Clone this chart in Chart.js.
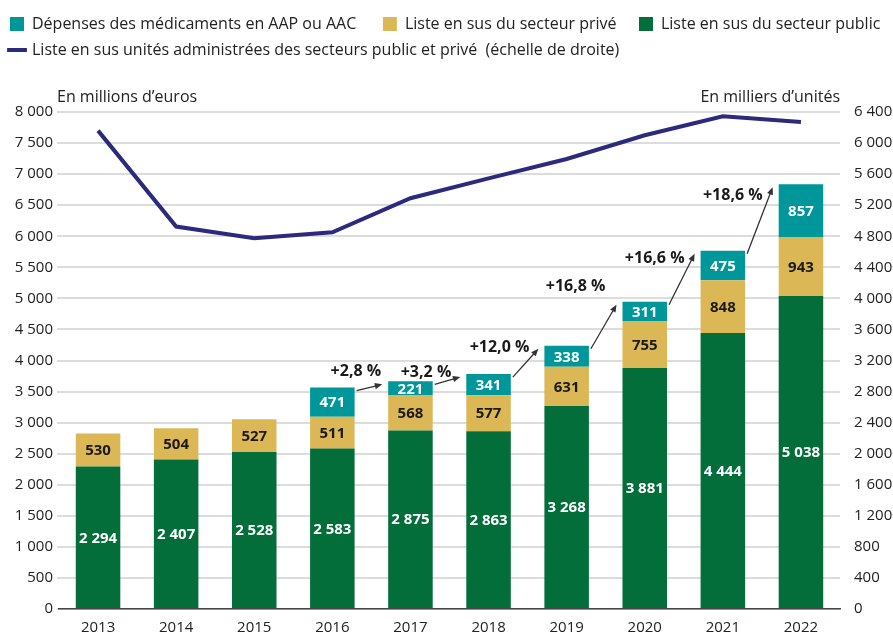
<!DOCTYPE html>
<html lang="fr">
<head>
<meta charset="utf-8">
<script src="https://cdn.jsdelivr.net/npm/chart.js@4"></script>
<style>
  html, body { margin: 0; padding: 0; background: #fff; }
  #wrap { width: 893px; height: 637px; }
</style>
</head>
<body>
<div id="wrap"><canvas id="myChart" width="893" height="637"></canvas></div>
<script>
// data
const years = ['2013', '2014', '2015', '2016', '2017', '2018', '2019', '2020', '2021', '2022'];
const publicList = [2294, 2407, 2528, 2583, 2875, 2863, 3268, 3881, 4444, 5038];
const priveList = [530, 504, 527, 511, 568, 577, 631, 755, 848, 943];
const aapAac = [null, null, null, 471, 221, 341, 338, 311, 475, 857];
const unitsAdministered = [6160, 4925, 4775, 4850, 5290, 5545, 5795, 6100, 6345, 6270];
// growth of the total, shown on the arrow that ends on each year's bar
const growthLabels = [null, null, null, null, '+2,8 %', '+3,2 %', '+12,0 %', '+16,8 %', '+16,6 %', '+18,6 %'];
const leftTicksMax = 8000;
const rightTicksMax = 6400;

const FONT = "'Open Sans', sans-serif";
const legendRank = [2, 1, 0, 3]; // teal, gold, green, then the line
// where each growth label sits relative to its arrow tip (x right edge, y middle)
const labelNudge = { 4: [-1, -13], 5: [-9, -5], 6: [-9, -1], 7: [-11, -18], 8: [-10, 5], 9: [-10, 8] };

function fmt(v) {
  return String(v).replace(/\B(?=(\d{3})+(?!\d))/g, ' ');
}

// leave room between legend and plot for axis captions
const legendSpace = {
  id: 'legendSpace',
  beforeInit(chart) {
    const fit = chart.legend.fit;
    chart.legend.fit = function () {
      fit.bind(chart.legend)();
      this.height += 44;
    };
  }
};

// numbers inside the bars, arrows with growth, axis captions
const extras = {
  id: 'extras',
  afterDatasetsDraw(chart) {
    const ctx = chart.ctx;
    const area = chart.chartArea;
    ctx.save();

    // values in bar segments
    ctx.font = "bold 15px " + FONT;
    ctx.textAlign = 'center';
    ctx.textBaseline = 'middle';
    [0, 1, 2].forEach(di => {
      const meta = chart.getDatasetMeta(di);
      const vals = chart.data.datasets[di].data;
      meta.data.forEach((bar, j) => {
        if (vals[j] == null) return;
        ctx.fillStyle = di === 1 ? '#1a1a1a' : '#ffffff';
        ctx.fillText(fmt(vals[j]), bar.x, (bar.y + bar.base) / 2 + 1);
      });
    });

    // top of each stack
    const tops = years.map((y, j) => {
      let top = null;
      [0, 1, 2].forEach(di => {
        const v = chart.data.datasets[di].data[j];
        if (v != null) top = chart.getDatasetMeta(di).data[j];
      });
      return top;
    });

    ctx.strokeStyle = '#333';
    ctx.fillStyle = '#333';
    ctx.lineWidth = 1.3;
    growthLabels.forEach((lab, j) => {
      if (!lab) return;
      const a = tops[j - 1], b = tops[j];
      const sx = a.x + a.width / 2 + 2, sy = a.y + 3;
      const ex = b.x - b.width / 2 - 6, ey = b.y + 3;
      const ang = Math.atan2(ey - sy, ex - sx);
      ctx.beginPath();
      ctx.moveTo(sx, sy);
      ctx.lineTo(ex - 5 * Math.cos(ang), ey - 5 * Math.sin(ang));
      ctx.stroke();
      ctx.beginPath();
      ctx.moveTo(ex, ey);
      ctx.lineTo(ex - 8 * Math.cos(ang - 0.4), ey - 8 * Math.sin(ang - 0.4));
      ctx.lineTo(ex - 8 * Math.cos(ang + 0.4), ey - 8 * Math.sin(ang + 0.4));
      ctx.closePath();
      ctx.fill();

      const n = labelNudge[j] || [-8, -8];
      ctx.fillStyle = '#1a1a1a';
      ctx.font = "bold 16px " + FONT;
      ctx.textAlign = 'right';
      ctx.fillText(lab, ex + n[0], ey + n[1]);
      ctx.fillStyle = '#333';
    });

    // axis captions
    ctx.fillStyle = '#222';
    ctx.font = "16px " + FONT;
    ctx.textBaseline = 'middle';
    ctx.textAlign = 'left';
    ctx.fillText('En millions d\u2019euros', area.left - 2, area.top - 15);
    ctx.textAlign = 'right';
    ctx.fillText('En milliers d\u2019unit\u00e9s', area.right, area.top - 15);
    ctx.restore();
  }
};

const ctx = document.getElementById('myChart').getContext('2d');
const chart = new Chart(ctx, {
  type: 'bar',
  data: {
    labels: years,
    datasets: [
      { label: 'Liste en sus du secteur public', data: publicList, backgroundColor: '#036e3a', stack: 's', yAxisID: 'y', order: 1 },
      { label: 'Liste en sus du secteur priv\u00e9   ', data: priveList, backgroundColor: '#dbb756', stack: 's', yAxisID: 'y', order: 1 },
      { label: 'D\u00e9penses des m\u00e9dicaments en AAP ou AAC    ', data: aapAac, backgroundColor: '#00979a', stack: 's', yAxisID: 'y', order: 1 },
      {
        type: 'line',
        label: 'Liste en sus unit\u00e9s administr\u00e9es des secteurs public et priv\u00e9  (\u00e9chelle de droite)',
        data: unitsAdministered,
        borderColor: '#2c2a7c',
        backgroundColor: '#2c2a7c',
        borderWidth: 4,
        pointRadius: 0,
        tension: 0,
        yAxisID: 'y2',
        order: 0
      }
    ]
  },
  options: {
    responsive: false,
    animation: false,
    layout: { padding: { left: 0, right: 0, top: 6, bottom: 0 } },
    datasets: { bar: { barPercentage: 0.57, categoryPercentage: 1 } },
    plugins: {
      tooltip: { enabled: false },
      legend: {
        position: 'top',
        align: 'start',
        labels: {
          font: { family: FONT, size: 16 },
          color: '#222',
          usePointStyle: true,
          boxWidth: 14,
          boxHeight: 14,
          padding: 10,
          generateLabels(c) {
            const items = Chart.defaults.plugins.legend.labels.generateLabels(c);
            items.forEach(it => {
              if (it.datasetIndex === 3) {
                it.pointStyle = 'line';
                it.lineWidth = 4;
                it.strokeStyle = '#2c2a7c';
              } else {
                it.pointStyle = 'rect';
                it.lineWidth = 0;
              }
            });
            return items;
          },
          sort: (a, b) => legendRank[a.datasetIndex] - legendRank[b.datasetIndex]
        }
      }
    },
    scales: {
      x: {
        stacked: true,
        grid: { display: false },
        border: { color: '#444', width: 1.5 },
        afterFit: s => { s.height = 28; },
        ticks: { color: '#222', font: { family: FONT, size: 15 }, padding: 2 }
      },
      y: {
        stacked: true,
        position: 'left',
        min: 0,
        max: leftTicksMax,
        afterFit: s => { s.width = 59; },
        grid: { color: '#dcdcdc', lineWidth: 2, tickLength: 2, drawTicks: true },
        border: { display: false },
        ticks: { stepSize: 500, color: '#222', font: { family: FONT, size: 15 }, padding: 4, callback: v => fmt(v) }
      },
      y2: {
        position: 'right',
        min: 0,
        max: rightTicksMax,
        afterFit: s => { s.width = 53; },
        grid: { display: false },
        border: { display: false },
        ticks: { stepSize: 400, color: '#222', font: { family: FONT, size: 15 }, padding: 6, callback: v => fmt(v) }
      }
    }
  },
  plugins: [legendSpace, extras]
});
</script>
</body>
</html>
